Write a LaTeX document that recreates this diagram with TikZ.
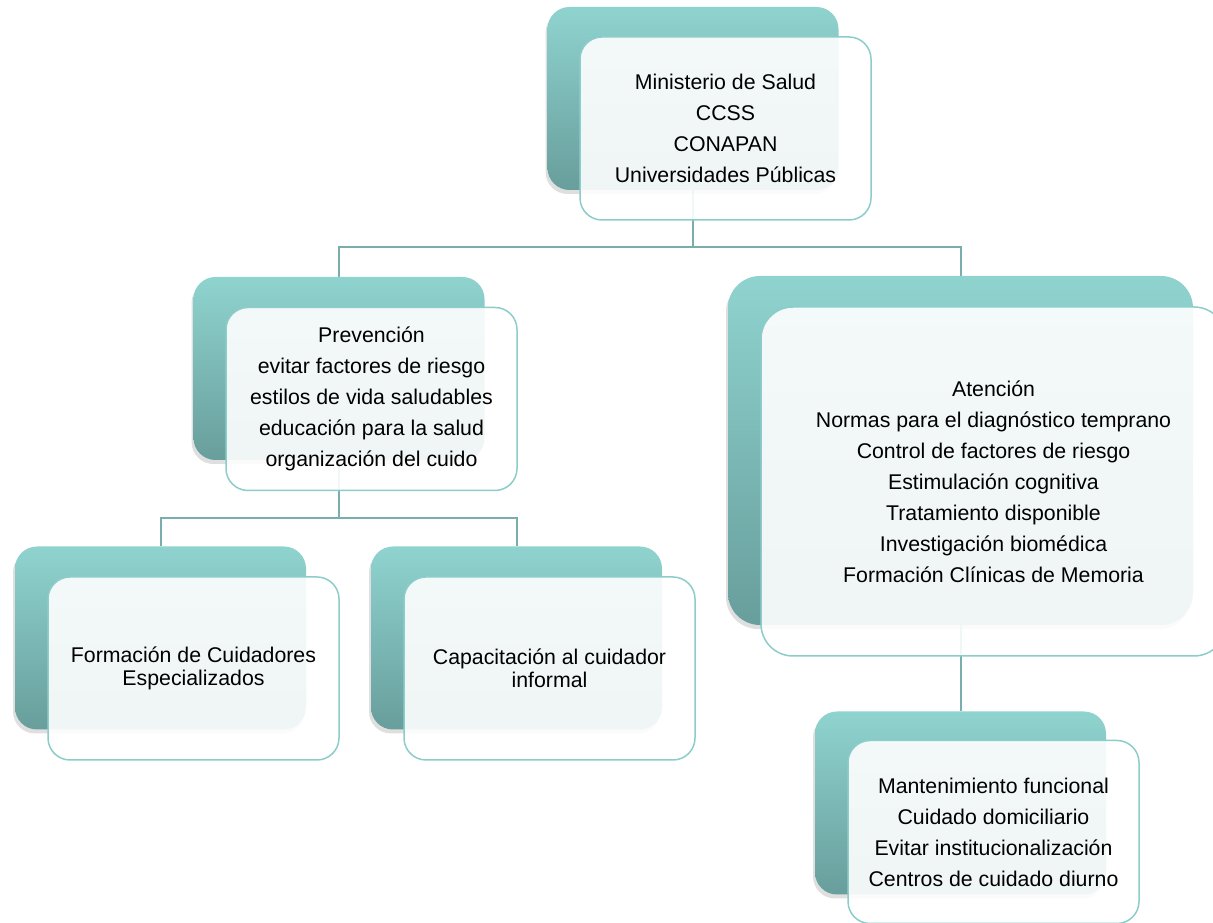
\documentclass[tikz,border=0pt]{standalone}
\usepackage{fontspec}
\setmainfont{Liberation Sans}
\usetikzlibrary{shadows,backgrounds}
\definecolor{tealtop}{RGB}{143,211,207}
\definecolor{tealbot}{RGB}{104,158,156}
\definecolor{rim}{RGB}{140,205,202}
\definecolor{linkc}{RGB}{122,174,172}
\tikzset{
  backbox/.style={rectangle, rounded corners=22pt, top color=tealtop, bottom color=tealbot,
    draw=none, minimum width=291pt, minimum height=183pt,
    drop shadow={opacity=0.25, shadow xshift=-2pt, shadow yshift=-4pt}},
  frontbox/.style={rectangle, rounded corners=22pt, draw=rim, line width=1.5pt, fill=white,
    fill opacity=0.9, text opacity=1, minimum width=291pt, minimum height=183pt,
    align=center, inner sep=0pt, font=\fontsize{21.3}{31}\selectfont},
  tight/.style={font=\fontsize{21.3}{23}\selectfont},
  link/.style={draw=linkc, line width=2pt}
}
\begin{document}
\begin{tikzpicture}[x=1pt,y=1pt]
\useasboundingbox (0,0) rectangle (1213,923);

% top
\node[backbox] (minB) at (693,824.5) {};
\node[frontbox] (min) at (725.5,794.5) {Ministerio de Salud\\CCSS\\CONAPAN\\Universidades Públicas};

% second level
\node[backbox] (prevB) at (339,554.5) {};
\node[frontbox] (prev) at (371.5,524) {Prevención\\evitar factores de riesgo\\estilos de vida saludables\\educación para la salud\\organización del cuido};

\node[backbox, minimum width=465pt, minimum height=349pt, rounded corners=32pt] (atenB) at (960.5,472.5) {};
\node[frontbox, minimum width=465pt, minimum height=349pt, rounded corners=32pt] (aten) at (993.5,441.5)
  {Atención\\Normas para el diagnóstico temprano\\Control de factores de riesgo\\Estimulación cognitiva\\Tratamiento disponible\\Investigación biomédica\\Formación Clínicas de Memoria};

% third level
\node[backbox] (formB) at (160.5,285) {};
\node[frontbox, tight] (form) at (193.5,254.5) {Formación de Cuidadores\\Especializados};

\node[backbox] (capB) at (516.5,285) {};
\node[frontbox, tight] (cap) at (549.5,254.5) {Capacitación al cuidador\\informal};

\node[backbox] (mantB) at (960.5,120) {};
\node[frontbox] (mant) at (993.5,91) {Mantenimiento funcional\\Cuidado domiciliario\\Evitar institucionalización\\Centros de cuidado diurno};

% connectors
\begin{scope}[on background layer]
\draw[link] (minB.south) -- ++(0,-57) coordinate (minJ);
\draw[link] (prevB.north) |- (minJ) -| (atenB.north);
\draw[link] (prevB.south) -- ++(0,-58) coordinate (prevJ);
\draw[link] (formB.north) |- (prevJ) -| (capB.north);
\draw[link] (atenB.south) -- (mantB.north);
\end{scope}
\end{tikzpicture}
\end{document}
